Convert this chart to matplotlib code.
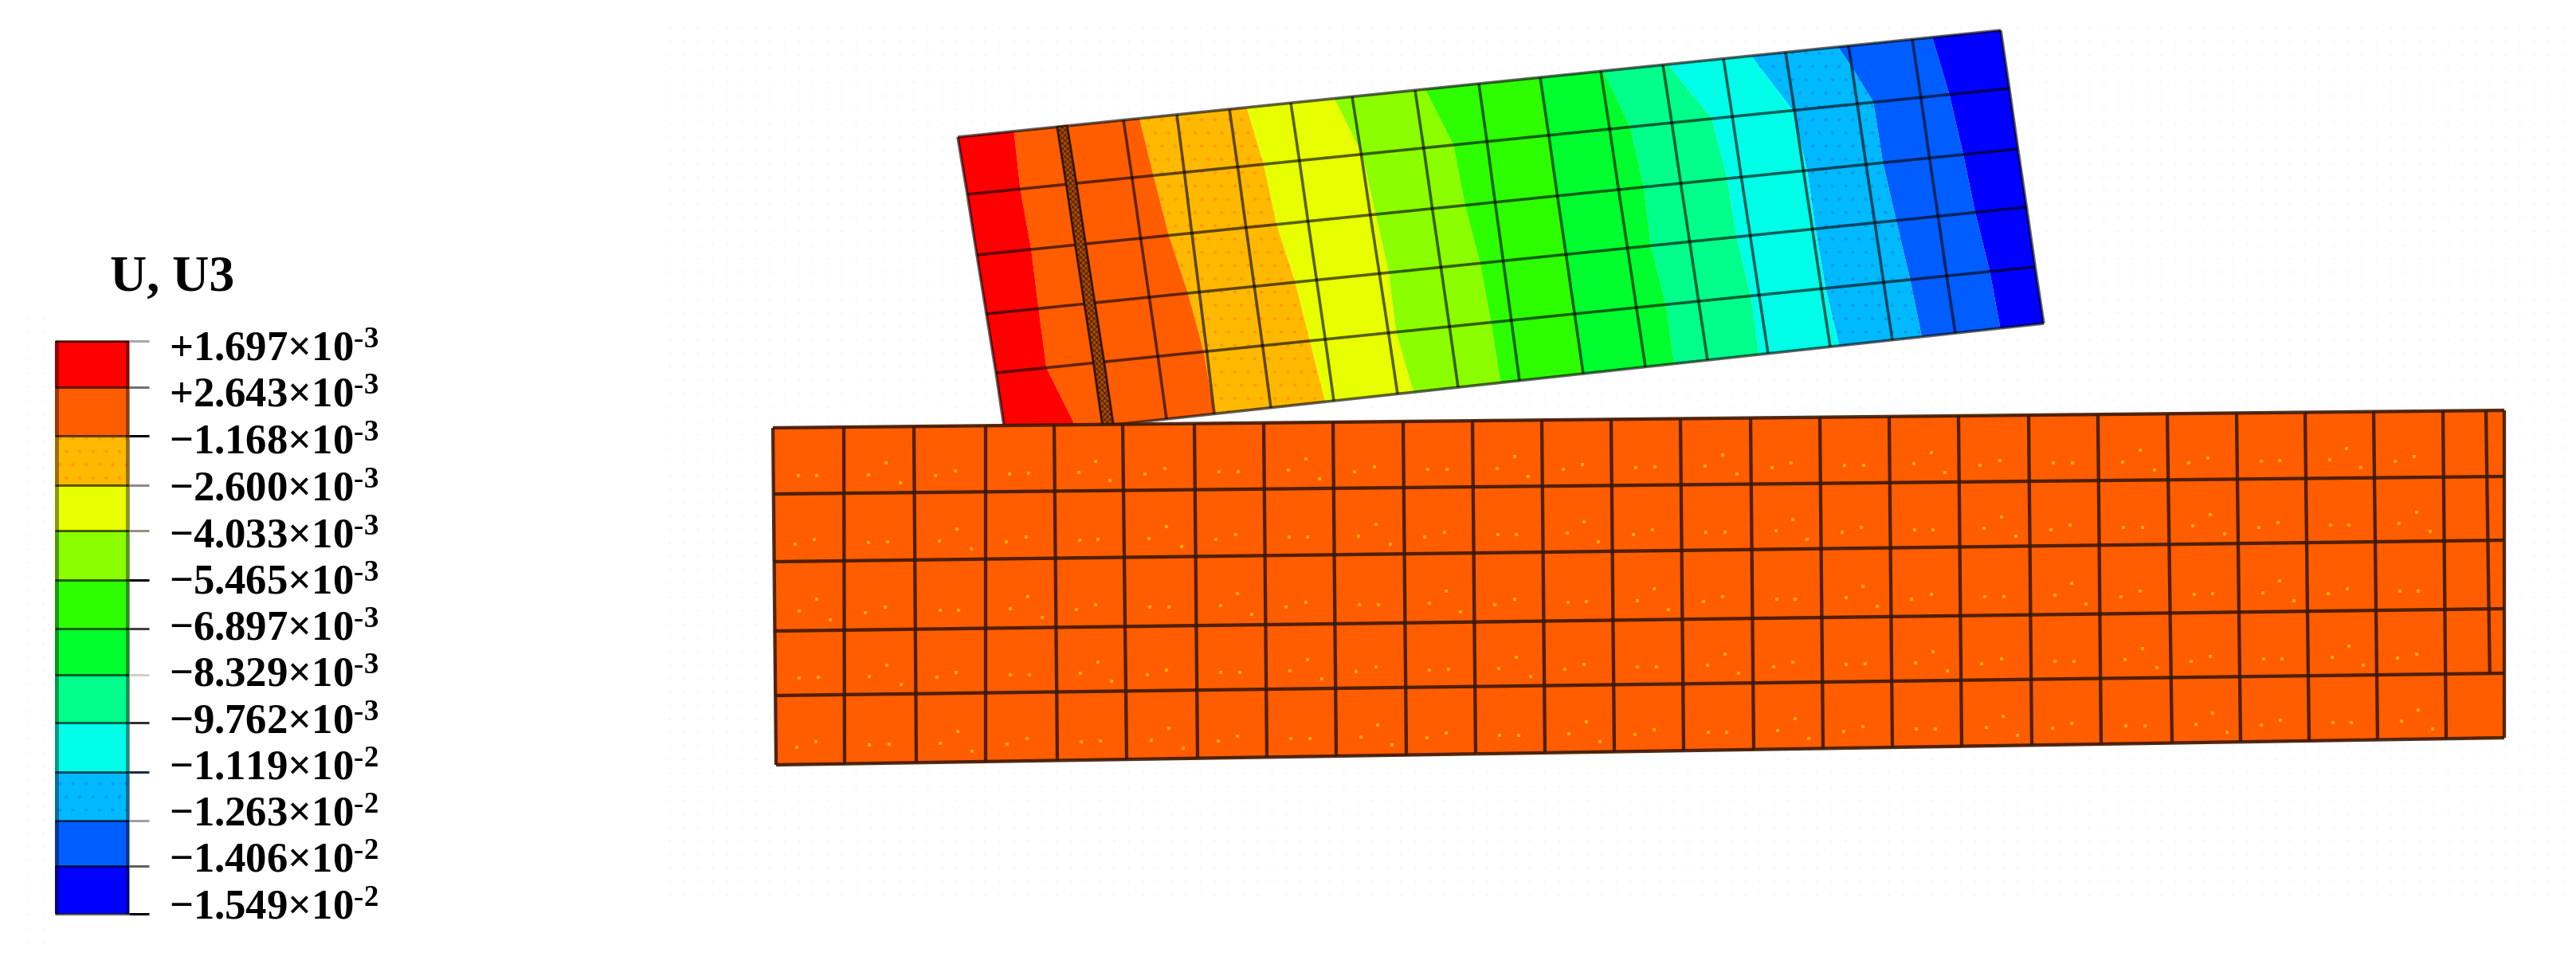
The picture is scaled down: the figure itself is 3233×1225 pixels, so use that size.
import numpy as np
import matplotlib
matplotlib.use("Agg")
import matplotlib.pyplot as plt
from matplotlib.colors import ListedColormap

# ---- legend ----
legend_title = "U, U3"
tick_mantissa = ["+1.697", "+2.643", "\u22121.168", "\u22122.600", "\u22124.033", "\u22125.465", "\u22126.897",
                 "\u22128.329", "\u22129.762", "\u22121.119", "\u22121.263", "\u22121.406", "\u22121.549"]
tick_exponent = [-3, -3, -3, -3, -3, -3, -3, -3, -3, -2, -2, -2, -2]
band_colors_top_down = ["#FF0000", "#FF5D00", "#FFB900", "#E8FF00", "#8BFF00", "#2EFF00",
                        "#00FF2E", "#00FF8B", "#00FFE8", "#00B9FF", "#005DFF", "#0000FF"]
legend_tick_y = [428, 486, 547, 609, 666, 728, 789, 847, 907, 969, 1030, 1087, 1147]
legend_text_y = [453, 511, 570, 629, 688, 746, 804, 862, 921, 979, 1037, 1095, 1154]
legend_tick_colors = ["#a8a8a8", "#707070", "#000000", "#908890", "#989080", "#000000", "#404040",
                      "#d0d0c8", "#303030", "#183048", "#a0a0a0", "#606060", "#000000"]

# ---- upper block mesh: nodes along the top and bottom edges ----
upper_top_x = [1202, 1327, 1339, 1410, 1477, 1543, 1620, 1697, 1776, 1856, 1933, 2009, 2087, 2163, 2241, 2320, 2400, 2511]
upper_bot_x = [1262, 1384, 1397, 1464, 1524, 1595, 1674, 1754, 1830, 1907, 1987, 2065, 2143, 2219, 2297, 2375, 2454, 2565]
upper_left_y = [172, 244, 320, 394, 468, 548]
upper_right_y = [38, 111, 187, 260, 335, 406]

# nodal U3, in legend band units (0 = bottom of the blue band, 12 = top of the red band)
u3_field = [
    [11.44, 10.66, 10.58, 10.14, 9.67, 9.19, 8.51, 7.79, 7.09, 6.52, 6.00, 5.04, 4.06, 3.32, 2.60, 1.88, 1.21, 0.28],
    [11.39, 10.66, 10.59, 10.18, 9.74, 9.26, 8.64, 8.01, 7.30, 6.66, 6.00, 5.25, 4.49, 3.75, 2.98, 2.21, 1.38, 0.20],
    [11.38, 10.69, 10.62, 10.22, 9.82, 9.30, 8.69, 8.06, 7.36, 6.67, 6.00, 5.30, 4.56, 3.83, 3.05, 2.21, 1.42, 0.32],
    [11.34, 10.70, 10.63, 10.27, 9.92, 9.40, 8.79, 8.10, 7.44, 6.74, 6.00, 5.27, 4.55, 3.84, 3.04, 2.27, 1.47, 0.35],
    [11.32, 10.70, 10.64, 10.30, 9.98, 9.46, 8.85, 8.08, 7.45, 6.78, 6.00, 5.33, 4.63, 3.90, 3.05, 2.32, 1.56, 0.41],
    [11.52, 10.81, 10.74, 10.35, 10.00, 9.50, 8.92, 8.18, 7.49, 6.78, 6.00, 5.33, 4.62, 3.89, 3.11, 2.35, 1.60, 0.42],
]

# ---- lower block mesh ----
lower_top_x = [970, 1059, 1147, 1237, 1323, 1409, 1499, 1586, 1673, 1761, 1848, 1935, 2022, 2109, 2197, 2284, 2371,
               2458, 2546, 2633, 2720, 2807, 2893, 2979, 3066, 3120, 3143]
lower_bot_x = [974, 1060, 1150, 1237, 1327, 1414, 1503, 1590, 1677, 1765, 1852, 1939, 2026, 2113, 2201, 2288, 2375,
               2462, 2550, 2637, 2726, 2812, 2898, 2984, 3070, 3126, 3143]
lower_left_y = [537, 620, 705, 792, 873, 960]
lower_right_y = [515, 598, 678, 764, 845, 926]
dot_pattern_u = [[.35, .62], [.35, .60, .80], [.30, .58]]
dot_pattern_v = [[.73, .73], [.72, .55, .85], [.75, .68]]

W, H = 3233, 1225
plt.rcParams["font.family"] = ["Liberation Serif", "DejaVu Serif"]
plt.rcParams["mathtext.fontset"] = "custom"
plt.rcParams["mathtext.rm"] = "Liberation Serif:bold"
plt.rcParams["mathtext.bf"] = "Liberation Serif:bold"
plt.rcParams["mathtext.default"] = "regular"
plt.rcParams["hatch.linewidth"] = 0.5

fig = plt.figure(figsize=(W / 100, H / 100), dpi=100)
ax = fig.add_axes([0, 0, 1, 1])
ax.set_xlim(0, W)
ax.set_ylim(H, 0)
ax.axis("off")
PX = 0.72  # points per pixel


def mesh(top_x, bot_x, left_y, right_y):
    top_x, bot_x = np.array(top_x, float), np.array(bot_x, float)
    frac_r = np.linspace(0, 1, len(left_y))[:, None]
    X = top_x + (bot_x - top_x) * frac_r
    frac_c = (X - X[:, :1]) / (X[:, -1:] - X[:, :1])
    L, R = np.array(left_y, float)[:, None], np.array(right_y, float)[:, None]
    return X, L + (R - L) * frac_c


# faint background texture of the source image
gx, gy = np.meshgrid(np.arange(840, 3225, 18), np.arange(35, 1135, 17))
ax.scatter(gx.ravel(), gy.ravel(), s=(3 * PX) ** 2, marker="s", c="#f6f9fc", linewidths=0, zorder=0)
gx, gy = np.meshgrid(np.arange(36, 66, 18), np.arange(400, 1190, 17))
ax.scatter(gx.ravel(), gy.ravel(), s=(3 * PX) ** 2, marker="s", c="#f6f9fc", linewidths=0, zorder=0)

# ---- upper block ----
UX, UY = mesh(upper_top_x, upper_bot_x, upper_left_y, upper_right_y)
F = np.array(u3_field)
levels = np.arange(13)
ax.contourf(UX, UY, F, levels=levels, colors=band_colors_top_down[::-1], antialiased=True, zorder=2)
plt.rcParams["hatch.color"] = "#FF9A00"
ax.contourf(UX, UY, F, levels=[9, 10], colors=["none"], hatches=["."], zorder=2.1)
plt.rcParams["hatch.color"] = "#009CEB"
ax.contourf(UX, UY, F, levels=[2, 3], colors=["none"], hatches=["."], zorder=2.1)
line_kw = dict(color="black", alpha=0.62, lw=3.6 * PX, zorder=2.5, solid_capstyle="butt")
for j in range(UX.shape[0]):
    ax.plot(UX[j], UY[j], **line_kw)
for i in range(UX.shape[1]):
    ax.plot(UX[:, i], UY[:, i], **line_kw)
# weld seam band
weld_x = np.r_[UX[:, 1], UX[::-1, 2]]
weld_y = np.r_[UY[:, 1], UY[::-1, 2]]
ax.fill(weld_x, weld_y, facecolor="#A84800", edgecolor="#2e1400", hatch="xxxxx", lw=1.5, zorder=2.6)

# ---- lower block ----
LX, LY = mesh(lower_top_x, lower_bot_x, lower_left_y, lower_right_y)
ax.pcolormesh(LX, LY, np.zeros((LX.shape[0] - 1, LX.shape[1] - 1)),
              cmap=ListedColormap([band_colors_top_down[1]]), zorder=3, edgecolors="none")
dx, dy = [], []
for j in range(LX.shape[0] - 1):
    for i in range(LX.shape[1] - 3):
        k = (i + 2 * j) % 3
        for u, v in zip(dot_pattern_u[k], dot_pattern_v[k]):
            a = LX[j, i] + (LX[j, i + 1] - LX[j, i]) * u
            b = LX[j + 1, i] + (LX[j + 1, i + 1] - LX[j + 1, i]) * u
            c = LY[j, i] + (LY[j, i + 1] - LY[j, i]) * u
            d = LY[j + 1, i] + (LY[j + 1, i + 1] - LY[j + 1, i]) * u
            dx.append(a + (b - a) * v)
            dy.append(c + (d - c) * v)
ax.scatter(dx, dy, s=(4 * PX) ** 2, marker="s", c="#FFA800", linewidths=0, zorder=3.1)
low_kw = dict(color="#3e1900", alpha=0.9, lw=4.3 * PX, zorder=3.5, solid_capstyle="butt")
for j in range(LX.shape[0]):
    ax.plot(LX[j], LY[j], **low_kw)
for i in range(LX.shape[1]):
    last = 5 if i == LX.shape[1] - 2 else 6   # the narrow edge column stops one row short
    ax.plot(LX[:last, i], LY[:last, i], **low_kw)

# ---- legend ----
bar_x0, bar_x1, tick_x1 = 69, 162, 187
for n, col in enumerate(band_colors_top_down):
    y0, y1 = legend_tick_y[n], legend_tick_y[n + 1]
    hatch = "." if n in (2, 9) else None
    edge = {2: "#FF9A00", 9: "#009CEB"}.get(n, col)
    ax.bar((bar_x0 + bar_x1) / 2, y1 - y0, bottom=y0, width=bar_x1 - bar_x0,
           color=col, edgecolor=edge, hatch=hatch, linewidth=0, zorder=2)
for xv in (bar_x0 + 2, bar_x1 - 2):
    ax.plot([xv, xv], [legend_tick_y[0], legend_tick_y[-1]], color="black", alpha=0.4, lw=5 * PX, zorder=2.5,
            solid_capstyle="butt")
for n, yv in enumerate(legend_tick_y):
    ax.plot([bar_x0, bar_x1], [yv, yv], color="black", alpha=0.62, lw=3 * PX, zorder=2.6, solid_capstyle="butt")
    ax.plot([bar_x1, tick_x1], [yv, yv], color=legend_tick_colors[n], lw=3 * PX, zorder=2.6, solid_capstyle="butt")
    ax.text(212, legend_text_y[n], f"{tick_mantissa[n]}\u00d710$^{{\\text{{{tick_exponent[n]}}}}}$",
            fontsize=38, fontweight="bold", ha="left", va="baseline", color="black", zorder=5)
ax.text(138, 365, legend_title, fontsize=46, fontweight="bold", ha="left", va="baseline", color="black", zorder=5)

fig.savefig("out.png", dpi=100, facecolor="white")
